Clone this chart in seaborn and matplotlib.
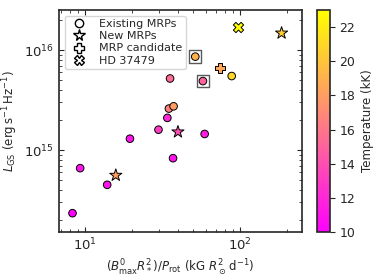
import numpy as np
import pandas as pd
import seaborn as sns
import matplotlib
matplotlib.use("Agg")
from matplotlib import pyplot as plt
from matplotlib.lines import Line2D
from matplotlib.colors import Normalize
from matplotlib.cm import ScalarMappable

# existing MRPs
exist_x = [8.3, 9.3, 13.9, 19.5, 29.8, 34.0, 34.8, 37.3, 35.4, 37.0, 59.2, 51.5, 57.7, 88.5]
exist_y = [2.34e14, 6.6e14, 4.5e14, 1.3e15, 1.6e15, 2.1e15, 2.6e15, 2.74e15, 5.2e15,
           8.3e14, 1.45e15, 8.6e15, 4.9e15, 5.5e15]
exist_t = [10.0, 11.0, 11.0, 11.0, 13.0, 12.0, 16.5, 18.0, 15.5, 11.0, 11.5, 19.0, 15.0, 21.0]

# new MRPs
new_x = [15.8, 39.8, 185.8]
new_y = [5.6e14, 1.52e15, 1.48e16]
new_t = [18.0, 14.0, 20.5]

# MRP candidate
cand_x = [74.6]
cand_y = [6.65e15]
cand_t = [18.5]

# HD 37479
hd_x = [96.8]
hd_y = [1.69e16]
hd_t = [23.0]

# boxed points
box_x = [51.5, 57.7]
box_y = [8.6e15, 4.9e15]

vmin, vmax = 10, 23

sns.set_style("ticks")
plt.rcParams['font.family'] = ['DejaVu Sans']

fig = plt.figure(figsize=(3.74, 2.8), dpi=100)
ax = fig.add_axes([0.158, 0.171, 0.649, 0.793])
cax = fig.add_axes([0.848, 0.171, 0.034, 0.793])

norm = Normalize(vmin=vmin, vmax=vmax)

sns.scatterplot(x=box_x, y=box_y, marker='s', s=80, facecolor='none',
                edgecolor='0.35', linewidth=1.0, ax=ax, zorder=2)

groups = [
    (exist_x, exist_y, exist_t, 'o', 30),
    (new_x, new_y, new_t, '*', 85),
    (cand_x, cand_y, cand_t, 'P', 55),
    (hd_x, hd_y, hd_t, 'X', 55),
]
for gx, gy, gt, mk, sz in groups:
    df = pd.DataFrame({'x': gx, 'y': gy, 't': gt})
    sns.scatterplot(data=df, x='x', y='y', hue='t', palette='spring',
                    hue_norm=norm, marker=mk, s=sz, edgecolor='black',
                    linewidth=0.7, legend=False, ax=ax, zorder=3)

ax.set_xscale('log')
ax.set_yscale('log')
ax.set_xlim(6.8, 251)
ax.set_ylim(10**14.18, 10**16.4)
ax.tick_params(which='both', direction='in', top=True, right=True, labelsize=9.5)
ax.set_xlabel(r'$(B^0_{\rm max}R_*^2)/P_{\rm rot}$ (kG $R_\odot^2\,$d$^{-1}$)',
              fontsize=8.5, labelpad=3)
ax.set_ylabel(r'$L_{\rm GS}$ (erg$\,$s$^{-1}\,$Hz$^{-1}$)', fontsize=8.5, labelpad=3)
for sp in ax.spines.values():
    sp.set_linewidth(1.2)

handles = [
    Line2D([], [], marker='o', ls='', mfc='white', mec='black', ms=6, label='Existing MRPs'),
    Line2D([], [], marker='*', ls='', mfc='white', mec='black', ms=8.5, label='New MRPs'),
    Line2D([], [], marker='P', ls='', mfc='white', mec='black', ms=7, label='MRP candidate'),
    Line2D([], [], marker='X', ls='', mfc='white', mec='black', ms=7, label='HD 37479'),
]
ax.legend(handles=handles, loc='upper left', fontsize=8, frameon=True,
          handletextpad=0.8, borderpad=0.3, labelspacing=0.2)

sm = ScalarMappable(norm=norm, cmap='spring')
cb = fig.colorbar(sm, cax=cax)
cb.set_ticks([10, 12, 14, 16, 18, 20, 22])
cb.ax.tick_params(labelsize=9)
cb.outline.set_linewidth(1.2)
cb.set_label('Temperature (kK)', fontsize=8.5)

fig.savefig('out.png', dpi=100)
